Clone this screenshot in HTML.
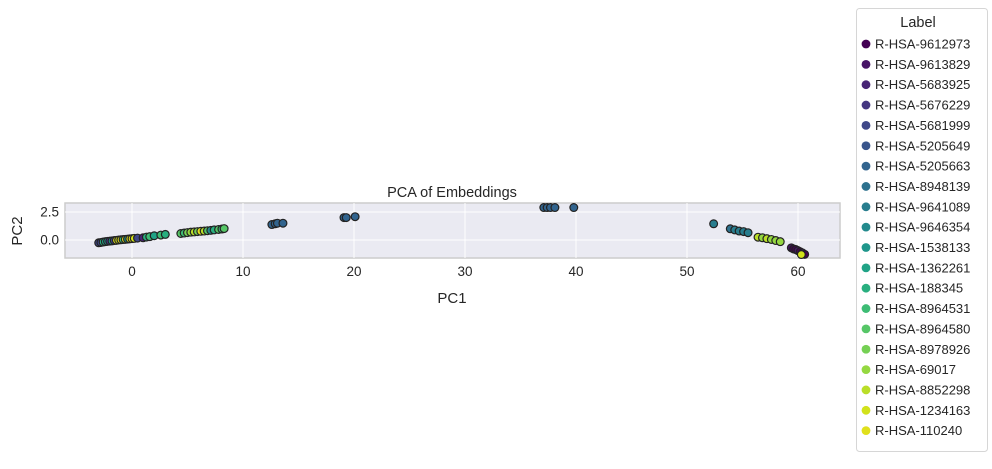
<!DOCTYPE html>
<html><head><meta charset="utf-8"><style>
body{margin:0;background:#fff;font-family:"Liberation Sans",sans-serif}
svg text{font-family:"Liberation Sans",sans-serif;fill:#262626}
</style></head><body>
<svg id="c" width="992" height="464"></svg>
<script>
const labels=["R-HSA-9612973","R-HSA-9613829","R-HSA-5683925","R-HSA-5676229","R-HSA-5681999","R-HSA-5205649","R-HSA-5205663","R-HSA-8948139","R-HSA-9641089","R-HSA-9646354","R-HSA-1538133","R-HSA-1362261","R-HSA-188345","R-HSA-8964531","R-HSA-8964580","R-HSA-8978926","R-HSA-69017","R-HSA-8852298","R-HSA-1234163","R-HSA-110240"];
const colors=["#440154","#481467","#482576","#453781","#3f4788","#39558c","#32648e","#2d718e","#287d8e","#238a8d","#1f968b","#20a386","#29af7f","#3dbc74","#56c667","#75d054","#95d840","#bade28","#d2e21b","#e0e01c"];
const xs=[-3,-2.8,-2.6,-2.4,-2.2,-2,-1.8,-1.6,-1.4,-1.2,-1,-0.8,-0.6,-0.4,-0.2,0,0.2,0.5,1,1.3,1.6,2,2.6,3,
4.4,4.7,5,5.3,5.6,5.9,6.2,6.5,6.8,7.1,7.4,7.8,8.1,8.3,
12.6,12.9,13.1,13.6,19.1,19.3,20.1,37.1,37.4,37.7,38.1,39.8,
52.4,53.9,54.3,54.7,55.1,55.5,56.4,56.8,57.2,57.6,58,58.4,59.4,59.6,59.8,60,60.2,60.4,60.6,60.3];
const ys=[-0.25,-0.22,-0.18,-0.15,-0.12,-0.1,-0.08,-0.05,-0.03,0,0.02,0.04,0.06,0.08,0.1,0.12,0.14,0.17,0.2,0.26,0.3,0.38,0.44,0.5,
0.58,0.62,0.66,0.7,0.72,0.75,0.78,0.8,0.83,0.86,0.9,0.94,0.98,1.02,
1.38,1.45,1.5,1.5,2.0,2.0,2.08,2.9,2.9,2.9,2.9,2.9,
1.45,1.0,0.9,0.8,0.75,0.65,0.25,0.2,0.12,0.05,-0.05,-0.15,-0.7,-0.8,-0.85,-0.95,-1.05,-1.15,-1.28,-1.3];
const ls=[4,4,12,11,9,3,10,4,19,18,19,13,19,10,19,19,18,4,2,12,13,11,13,12,
14,13,15,16,17,15,19,17,14,9,12,14,13,14,
6,6,6,6,6,6,6,6,6,6,6,6,
8,7,8,8,8,8,17,16,17,16,16,16,1,0,0,1,0,2,0,18];
const xticks=[0,10,20,30,40,50,60],yticks=[0,2.5];
const L=65,R=840,T=203,B=258;
const X=v=>132+v*11.1, Y=v=>240-v*11.2;
const s=document.getElementById('c'),NS='http://www.w3.org/2000/svg';
function el(t,a,p){const e=document.createElementNS(NS,t);for(const k in a)e.setAttribute(k,a[k]);(p||s).appendChild(e);return e;}
let r=el('rect',{x:L,y:T,width:R-L,height:B-T,fill:'#eaeaf2',stroke:'#cccccc','stroke-width':1.5});


xticks.forEach(v=>{
 let g=el('line',{x1:X(v),x2:X(v),y1:T,y2:B,stroke:'#fff','stroke-width':1});
 
 
 let t=el('text',{x:X(v),y:B+18,'text-anchor':'middle','font-size':13.5});t.textContent=v;
 
 
});
yticks.forEach(v=>{
 let g=el('line',{x1:L,x2:R,y1:Y(v),y2:Y(v),stroke:'#fff','stroke-width':1});
 
 
 let t=el('text',{x:L-6,y:Y(v)+4.5,'text-anchor':'end','font-size':13.5});t.textContent=v.toFixed(1);
 
 
});
xs.forEach((v,i)=>{
 let c=el('circle',{cx:X(v),cy:Y(ys[i]),r:3.9,fill:colors[ls[i]],stroke:'#222','stroke-width':1.2});
 
 
});
let t1=el('text',{x:452,y:197,'text-anchor':'middle','font-size':14.5});t1.textContent='PCA of Embeddings';


let t2=el('text',{x:452,y:303,'text-anchor':'middle','font-size':15});t2.textContent='PC1';


let t3=el('text',{x:22,y:231,'text-anchor':'middle','font-size':15,transform:'rotate(-90 22 231)'});t3.textContent='PC2';


let lg=el('rect',{x:856.5,y:8.5,width:131,height:443,rx:3,fill:'#fff',stroke:'#d6d6d6'});


let lt=el('text',{x:918,y:27,'text-anchor':'middle','font-size':14.5});lt.textContent='Label';


labels.forEach((n,i)=>{
 const y=44+i*20.35;
 let c=el('circle',{cx:866,cy:y,r:4.4,fill:colors[i]});
 
 
 let t=el('text',{x:875,y:y+4.5,'font-size':13});t.textContent=n;
 
 
});
</script>
</body></html>
